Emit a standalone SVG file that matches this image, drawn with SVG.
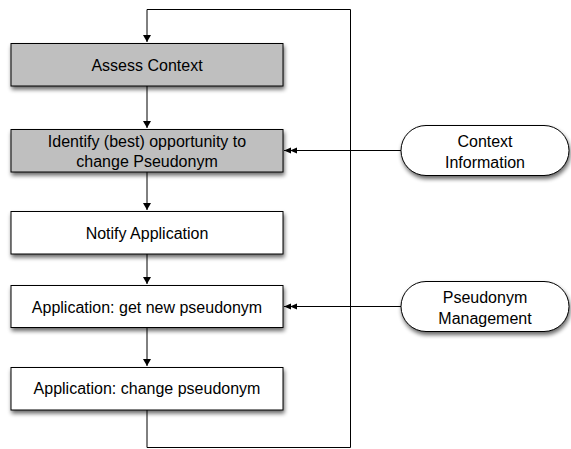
<svg xmlns="http://www.w3.org/2000/svg" width="571" height="449" viewBox="0 0 571 449">
<defs>
<filter id="sh" x="-10%" y="-20%" width="130%" height="160%">
<feGaussianBlur in="SourceAlpha" stdDeviation="2"/>
<feOffset dx="1" dy="3" result="b"/>
<feComponentTransfer><feFuncA type="linear" slope="0.6"/></feComponentTransfer>
<feMerge><feMergeNode/><feMergeNode in="SourceGraphic"/></feMerge>
</filter>
<marker id="a" markerWidth="8" markerHeight="8" refX="7" refY="4" orient="auto" markerUnits="userSpaceOnUse">
<path d="M0,0 L7,4 L0,8 Z" fill="#000"/>
</marker>
<marker id="d" markerWidth="14" markerHeight="8" refX="13" refY="4" orient="auto" markerUnits="userSpaceOnUse">
<path d="M0,1 L7,4 L0,7 Z M6,1 L13,4 L6,7 Z" fill="#000"/>
</marker>
</defs>
<style>
.box{stroke:#000;stroke-width:1;filter:url(#sh)}
.g{fill:#bfbfbf}
.w{fill:#fff}
text{font-family:"Liberation Sans",Arial,sans-serif;font-size:16px;fill:#000;text-anchor:middle}
.c{fill:none;stroke:#000;stroke-width:1}
</style>
<g id="connectors">
<path class="c" d="M147,410 V447.5 H350.5 V9.5 H147 V42" marker-end="url(#a)"/>
<path class="c" d="M147,86 V128" marker-end="url(#a)"/>
<path class="c" d="M147,172 V210" marker-end="url(#a)"/>
<path class="c" d="M147,254 V284" marker-end="url(#a)"/>
<path class="c" d="M147,327 V366" marker-end="url(#a)"/>
<path class="c" d="M401,150.5 H284" marker-end="url(#d)"/>
<path class="c" d="M401,306.5 H284" marker-end="url(#d)"/>
</g>
<g id="n1"><rect class="box g" x="11" y="43.5" width="272" height="42.5"/><text x="147" y="71">Assess Context</text></g>
<g id="n2"><rect class="box g" x="11" y="129.5" width="272" height="42.5"/><text x="147" y="147">Identify (best) opportunity to</text><text x="147" y="167">change Pseudonym</text></g>
<g id="n3"><rect class="box w" x="11" y="211.5" width="272" height="42.5"/><text x="147" y="239">Notify Application</text></g>
<g id="n4"><rect class="box w" x="11" y="285.5" width="272" height="42"/><text x="147" y="313">Application: get new pseudonym</text></g>
<g id="n5"><rect class="box w" x="11" y="367.5" width="272" height="42.5"/><text x="147" y="394">Application: change pseudonym</text></g>
<g id="p1"><rect class="box w" x="401" y="125.5" width="168" height="50" rx="25" ry="25"/><text x="485" y="147">Context</text><text x="485" y="168">Information</text></g>
<g id="p2"><rect class="box w" x="401" y="281.5" width="168" height="50" rx="25" ry="25"/><text x="485" y="303">Pseudonym</text><text x="485" y="324">Management</text></g>
</svg>
